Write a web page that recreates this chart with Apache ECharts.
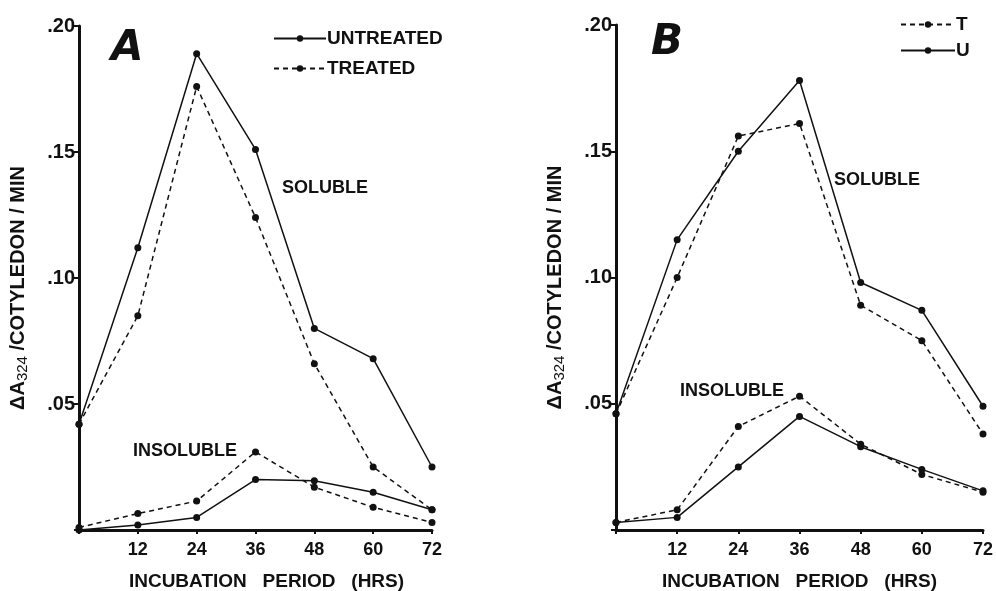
<!DOCTYPE html>
<html><head><meta charset="utf-8">
<script src="https://cdn.jsdelivr.net/npm/echarts@6/dist/echarts.min.js"></script>
<style>html,body{margin:0;padding:0;background:#fff}#c{width:996px;height:591px}</style>
</head><body><div id="c"></div>
<script>
const hours = [0, 12, 24, 36, 48, 60, 72];
const xTickLabels = {12:'12',24:'24',36:'36',48:'48',60:'60',72:'72'};
const yTickLabels = {0.05:'.05',0.1:'.10',0.15:'.15',0.2:'.20'};
// Panel A
const aSolUntreated = [0.042, 0.112, 0.189, 0.151, 0.080, 0.068, 0.025];
const aSolTreated   = [0.042, 0.085, 0.176, 0.124, 0.066, 0.025, 0.008];
const aInsUntreated = [0.000, 0.002, 0.005, 0.020, 0.0195, 0.015, 0.008];
const aInsTreated   = [0.001, 0.0065, 0.0115, 0.031, 0.017, 0.009, 0.003];
// Panel B
const bSolU = [0.046, 0.115, 0.150, 0.178, 0.098, 0.087, 0.049];
const bSolT = [0.046, 0.100, 0.156, 0.161, 0.089, 0.075, 0.038];
const bInsU = [0.003, 0.005, 0.025, 0.045, 0.033, 0.024, 0.0155];
const bInsT = [0.003, 0.008, 0.041, 0.053, 0.034, 0.022, 0.015];

const FONT = 'Liberation Sans';
const pair = arr => hours.map((h,i)=>[h,arr[i]]);
function ser(name, data, idx, dashed){
  return {type:'line', name, data:pair(data), xAxisIndex:idx, yAxisIndex:idx,
    symbol:'circle', symbolSize:7, showSymbol:true,
    itemStyle:{color:'#111'},
    lineStyle:{color:'#111', width:1.5, type: dashed?[5,4]:'solid'},
    emphasis:{disabled:true}, animation:false};
}
function xAx(idx, pad){
  return {type:'value', gridIndex:idx, min:0, max:72, interval:12,
    axisLine:{lineStyle:{color:'#111', width:3}},
    axisTick:{show:true, length:4, lineStyle:{color:'#111', width:2}},
    splitLine:{show:false},
    axisLabel:{color:'#111', fontFamily:FONT, fontWeight:'bold', fontSize:18, margin:11,
      formatter:v=>xTickLabels[v]||''},
    name:'INCUBATION   PERIOD   (HRS)', nameLocation:'middle', nameGap:42,
    nameTextStyle:{color:'#111', fontFamily:FONT, fontWeight:'bold', fontSize:19, padding:[0,0,0,pad]}};
}
function yAx(idx){
  return {type:'value', gridIndex:idx, min:0, max:0.2, interval:0.05,
    axisLine:{show:true, lineStyle:{color:'#111', width:3}},
    axisTick:{show:true, inside:false, length:5, lineStyle:{color:'#111', width:2}},
    splitLine:{show:false},
    axisLabel:{color:'#111', fontFamily:FONT, fontWeight:'bold', fontSize:20, margin:4,
      formatter:v=>{const k=Math.round(v*100)/100; return yTickLabels[k]||'';}},
    name:'{a|\u0394A}{s|324}{a| /COTYLEDON / MIN}{p|}', nameLocation:'middle', nameGap:49,
    nameTextStyle:{rich:{
      a:{color:'#111', fontFamily:FONT, fontWeight:'bold', fontSize:20, lineHeight:24, verticalAlign:'middle'},
      s:{color:'#111', fontFamily:FONT, fontSize:15, lineHeight:24, verticalAlign:'bottom', padding:[9,0,0,0]},
      p:{width:20, lineHeight:24}
    }}};
}
const txt = (left, top, t, size, extra) => ({type:'text', left, top,
  style:Object.assign({text:t, fill:'#111', font:`bold ${size}px "${FONT}"`}, extra||{})});

const chart = echarts.init(document.getElementById('c'), null, {renderer:'canvas'});
chart.setOption({
  animation:false,
  backgroundColor:'#fff',
  grid:[
    {left:79, right:564, top:26, bottom:61, outerBoundsMode:'none', containLabel:false},
    {left:616, right:13, top:25, bottom:61, outerBoundsMode:'none', containLabel:false}
  ],
  xAxis:[xAx(0, 22), xAx(1, 0)],
  yAxis:[yAx(0), yAx(1)],
  legend:[
    {data:['UNTREATED','TREATED'], left:268, top:24, orient:'vertical', itemGap:11,
      itemWidth:52, itemHeight:8, selectedMode:false,
      textStyle:{color:'#111', fontFamily:FONT, fontWeight:'bold', fontSize:19, padding:[0,0,0,-4]}},
    {data:['T','U'], left:895, top:10, orient:'vertical', itemGap:7,
      itemWidth:54, itemHeight:8, selectedMode:false,
      textStyle:{color:'#111', fontFamily:FONT, fontWeight:'bold', fontSize:19, padding:[0,0,0,-4]}}
  ],
  series:[
    ser('UNTREATED', aSolUntreated, 0, false),
    ser('TREATED', aSolTreated, 0, true),
    ser('UNTREATED', aInsUntreated, 0, false),
    ser('TREATED', aInsTreated, 0, true),
    ser('T', bSolT, 1, true),
    ser('U', bSolU, 1, false),
    ser('T', bInsT, 1, true),
    ser('U', bInsU, 1, false)
  ],
  graphic:[
    txt(111, 28, 'A', 40, {font:'italic 900 42px "DejaVu Sans"'}),
    txt(651, 22, 'B', 40, {font:'italic 900 42px "DejaVu Sans"'}),
    txt(282, 179, 'SOLUBLE', 18),
    txt(133, 442, 'INSOLUBLE', 18),
    txt(834, 171, 'SOLUBLE', 18),
    txt(680, 382, 'INSOLUBLE', 18)
  ]
});
</script></body></html>
